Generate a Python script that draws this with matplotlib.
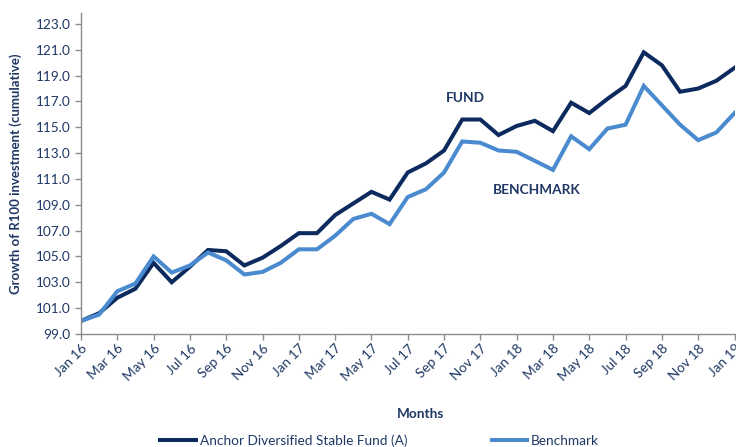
import numpy as np
import matplotlib.pyplot as plt

plt.rcParams['font.family'] = ['Lato', 'DejaVu Sans']

months = ["Jan 16", "Feb 16", "Mar 16", "Apr 16", "May 16", "Jun 16", "Jul 16", "Aug 16",
          "Sep 16", "Oct 16", "Nov 16", "Dec 16", "Jan 17", "Feb 17", "Mar 17", "Apr 17",
          "May 17", "Jun 17", "Jul 17", "Aug 17", "Sep 17", "Oct 17", "Nov 17", "Dec 17",
          "Jan 18", "Feb 18", "Mar 18", "Apr 18", "May 18", "Jun 18", "Jul 18", "Aug 18",
          "Sep 18", "Oct 18", "Nov 18", "Dec 18", "Jan 19"]

fund = [100.0, 100.6, 101.8, 102.5, 104.5, 103.0, 104.2, 105.5, 105.4, 104.3,
        104.9, 105.8, 106.8, 106.8, 108.2, 109.1, 110.0, 109.4, 111.5, 112.2,
        113.2, 115.6, 115.6, 114.4, 115.1, 115.5, 114.7, 116.9, 116.1, 117.2,
        118.2, 120.8, 119.8, 117.75, 118.0, 118.6, 119.6]

benchmark = [100.0, 100.5, 102.3, 102.9, 105.0, 103.75, 104.3, 105.3, 104.7, 103.6,
             103.8, 104.5, 105.55, 105.55, 106.6, 107.9, 108.3, 107.5, 109.6, 110.2,
             111.5, 113.9, 113.8, 113.2, 113.1, 112.4, 111.7, 114.3, 113.3, 114.9,
             115.2, 118.2, 116.7, 115.2, 114.0, 114.6, 116.1]

yticks = np.arange(99, 124, 2)

navy = "#0c2a5e"
light = "#4a8bd0"
text_col = "#1f3864"
axis_col = "#8c8c8c"

fig = plt.figure(figsize=(7.36, 4.47), dpi=100)
ax = fig.add_axes([0.110, 0.253, 0.888, 0.718])

x = np.arange(len(months))
ax.plot(x, fund, color=navy, lw=2.9, label="Anchor Diversified Stable Fund (A)", solid_joinstyle="miter")
ax.plot(x, benchmark, color=light, lw=2.9, label="Benchmark", solid_joinstyle="miter")

ax.set_xlim(0, len(months) - 1)
ax.set_ylim(99, 123.85)
ax.set_yticks(yticks)
ax.set_yticklabels([f"{v:.1f}" for v in yticks])
ax.set_xticks(x[::2])
ax.set_xticklabels(months[::2], rotation=45, ha="right", va="top", rotation_mode="anchor")

for s in ["top", "right"]:
    ax.spines[s].set_visible(False)
for s in ["left", "bottom"]:
    ax.spines[s].set_color(axis_col)
    ax.spines[s].set_linewidth(1.0)
ax.tick_params(axis="both", colors=axis_col, labelcolor=text_col, labelsize=9.8,
               direction="out", length=4, width=1.0)
ax.tick_params(axis="x", pad=2)

ax.set_ylabel("Growth of R100 investment (cumulative)", fontsize=9.5, fontweight="bold",
              color=text_col, labelpad=8)
ax.yaxis.set_label_coords(-0.09, 0.5)
fig.text(0.571, 0.074, "Months", ha="center", va="center", fontsize=9.8,
         fontweight="bold", color=text_col)

ax.text(21.2, 117.3, "FUND", ha="center", va="center", fontsize=9.8, fontweight="bold", color=text_col)
ax.text(25.1, 110.15, "BENCHMARK", ha="center", va="center", fontsize=9.8, fontweight="bold", color=text_col)

leg = fig.legend(loc="center", bbox_to_anchor=(0.516, 0.015), ncol=2, frameon=False,
                 fontsize=9.8, handlelength=2.6, columnspacing=6.2, handletextpad=0.3)
for t in leg.get_texts():
    t.set_color(text_col)

fig.savefig("out.png", dpi=100)
